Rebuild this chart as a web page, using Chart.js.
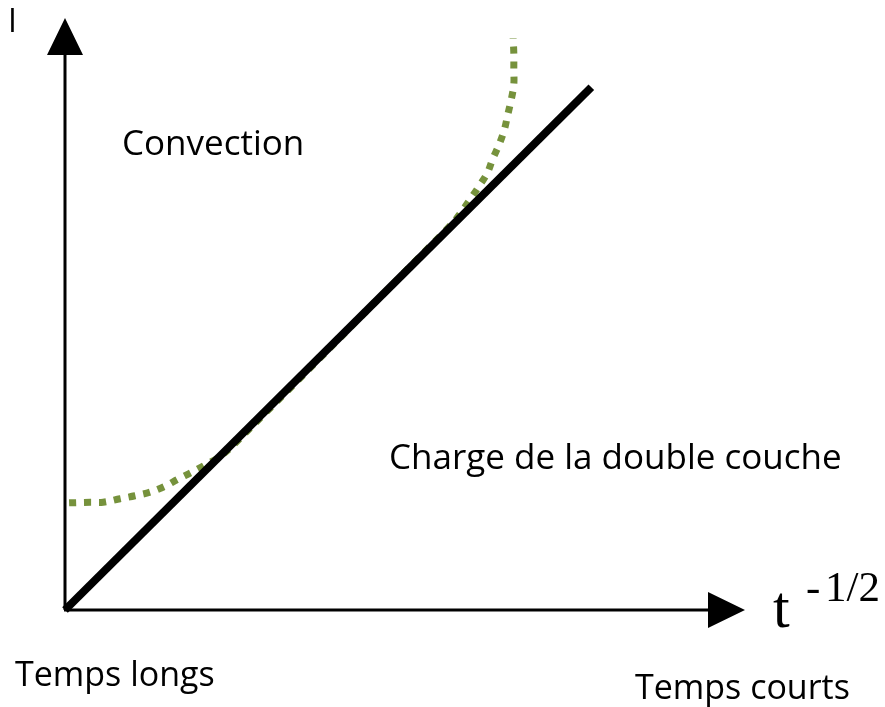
<!DOCTYPE html>
<html>
<head>
<meta charset="utf-8">
<script src="https://cdn.jsdelivr.net/npm/chart.js@4/dist/chart.umd.min.js"></script>
<style>
  html, body { margin: 0; padding: 0; background: #fff; }
  #chart { display: block; }
</style>
</head>
<body>
<canvas id="chart" width="885" height="707"></canvas>
<script>
// axes range (arbitrary units, no graduations on the sketch)
const xRange = [0, 10];
const yRange = [0, 10];

// droite : charge de la double couche, I proportionnel à t^-1/2
const lineX = [0, 7.74];
const lineY = [0, 8.83];

// courbe réelle (pointillés verts) : convection aux temps longs, écart aux temps courts
const curveX = [0.06, 0.37, 0.56, 0.81, 1.03, 1.25, 1.47, 1.66, 1.87, 2.06, 2.25, 2.46,
                5.69, 5.82, 5.96, 6.09, 6.21, 6.29, 6.38, 6.46, 6.51, 6.56, 6.60, 6.60, 6.60, 6.59];
const curveY = [1.81, 1.82, 1.82, 1.88, 1.93, 1.99, 2.09, 2.21, 2.33, 2.45, 2.57, 2.77,
                6.52, 6.71, 6.94, 7.16, 7.38, 7.62, 7.85, 8.11, 8.36, 8.61, 8.87, 9.14, 9.41, 9.66];

const textFont = '"Open Sans", "Noto Sans", sans-serif';
const serifFont = '"Liberation Serif", "DejaVu Serif", serif';

function toPoints(xs, ys) {
    return xs.map((x, i) => ({ x: x, y: ys[i] }));
}

// axes with arrowheads, drawn under the lines
const arrowAxes = {
    id: 'arrowAxes',
    beforeDatasetsDraw(chart) {
        const { ctx, chartArea: a } = chart;
        ctx.save();
        ctx.strokeStyle = '#000';
        ctx.fillStyle = '#000';
        ctx.lineWidth = 3;
        ctx.beginPath();
        ctx.moveTo(a.left, a.bottom);
        ctx.lineTo(a.left, a.top + 30);
        ctx.moveTo(a.left - 1, a.bottom);
        ctx.lineTo(a.right - 30, a.bottom);
        ctx.stroke();

        ctx.beginPath();
        ctx.moveTo(a.left, a.top);
        ctx.lineTo(a.left - 18, a.top + 37);
        ctx.lineTo(a.left + 18, a.top + 37);
        ctx.closePath();
        ctx.moveTo(a.right, a.bottom);
        ctx.lineTo(a.right - 37, a.bottom - 18);
        ctx.lineTo(a.right - 37, a.bottom + 18);
        ctx.closePath();
        ctx.fill();
        ctx.restore();
    }
};

// text labels of the sketch
const sketchLabels = {
    id: 'sketchLabels',
    afterDraw(chart) {
        const ctx = chart.ctx;
        ctx.save();
        ctx.fillStyle = '#000';
        ctx.textBaseline = 'alphabetic';
        ctx.textAlign = 'left';

        ctx.font = '32px ' + textFont;
        ctx.fillText('I', 8, 32);

        ctx.font = '35px ' + textFont;
        ctx.fillText('Convection', 122, 155);
        ctx.fillText('Charge de la double couche', 389, 469);
        ctx.font = '34px ' + textFont;
        ctx.fillText('Temps longs', 15, 686);
        ctx.fillText('Temps courts', 635, 699);

        ctx.font = '60px ' + serifFont;
        ctx.fillText('t', 773, 627);
        ctx.font = '43px ' + serifFont;
        ctx.fillText('-', 806, 601);
        ctx.fillText('1/2', 825, 601);
        ctx.restore();
    }
};

new Chart(document.getElementById('chart'), {
    type: 'line',
    data: {
        datasets: [
            {
                label: 'Charge de la double couche',
                data: toPoints(lineX, lineY),
                borderColor: '#000',
                borderWidth: 8,
                borderCapStyle: 'butt',
                pointRadius: 0,
                tension: 0,
                clip: false,
                order: 0
            },
            {
                label: 'Courbe réelle',
                data: toPoints(curveX, curveY),
                borderColor: '#76923c',
                borderWidth: 7,
                borderDash: [7, 8],
                borderCapStyle: 'butt',
                pointRadius: 0,
                tension: 0.35,
                clip: false,
                order: 1
            }
        ]
    },
    options: {
        responsive: false,
        animation: false,
        layout: { padding: { left: 65, right: 140, top: 18, bottom: 97 } },
        plugins: {
            legend: { display: false },
            tooltip: { enabled: false }
        },
        scales: {
            x: { type: 'linear', min: xRange[0], max: xRange[1], display: false },
            y: { type: 'linear', min: yRange[0], max: yRange[1], display: false }
        }
    },
    plugins: [arrowAxes, sketchLabels]
});
</script>
</body>
</html>
